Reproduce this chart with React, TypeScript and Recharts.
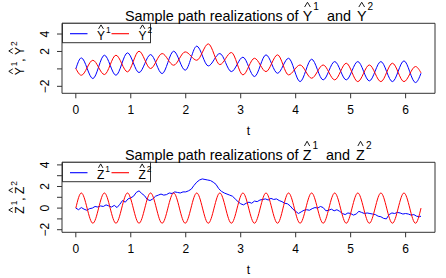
import React from "react";
import { LineChart, Line, XAxis, YAxis, ReferenceArea } from "recharts";

const W = 446;
const H = 139;
const FONT = '"Liberation Sans", Arial, Helvetica, sans-serif';
const INK = "#000000";
const FRAME = "#333333";
const BLUE = "#0000ff";
const RED = "#ff0000";

// axis ticks
const xTicks = [0, 1, 2, 3, 4, 5, 6];
const yTicksY = [-2, 0, 2, 4];
const yTicksZ = [-2, -1, 0, 1, 2, 3, 4];

// times of the peaks / troughs of the oscillating paths (plus both ends)
const tExt = [
  0, 0.1, 0.31, 0.52, 0.73, 0.94, 1.15, 1.36, 1.57, 1.78, 1.99, 2.2, 2.41, 2.62, 2.83, 3.04,
  3.25, 3.46, 3.67, 3.87, 4.08, 4.29, 4.5, 4.71, 4.92, 5.13, 5.34, 5.55, 5.76, 5.97, 6.18, 6.28,
];

// Y^1 (blue) and Y^2 (red) at those times
const y1Ext = [
  0.0, 1.26, -1.11, 1.57, -0.73, 1.84, -0.42, 1.64, -0.54, 2.03, -0.15, 2.61, 0.34, 1.76, -0.31, 1.34,
  -0.88, 1.61, -0.5, 1.22, -1.46, 1.11, -1.26, 0.84, -1.26, 0.84, -1.38, 0.84, -1.46, 0.92, -1.57, -0.5,
];
const y2Ext = [
  0.05, -0.73, 0.99, -0.65, 1.57, -0.34, 2.03, 0.04, 1.76, 0.42, 1.95, 0.99, 2.87, 0.49, 1.88, -0.69,
  1.22, -0.31, 1.61, -0.69, 0.45, -1.07, 0.45, -1.26, 0.65, -1.46, 0.45, -1.46, 0.65, -1.46, 0.27, -0.45,
];

// Z^2 (red) at the same times
const z2Ext = [
  0, 1.4, -1.4, 1.4, -1.4, 1.4, -1.4, 1.4, -1.4, 1.4, -1.4, 1.4, -1.4, 1.4, -1.4, 1.4,
  -1.4, 1.4, -1.4, 1.4, -1.4, 1.4, -1.4, 1.4, -1.4, 1.4, -1.4, 1.4, -1.4, 1.4, -1.4, 0,
];

// Z^1 (blue) read every 0.05
const tFine = [
  0, 0.05, 0.1, 0.15, 0.2, 0.25, 0.3, 0.35, 0.4, 0.45, 0.5, 0.55, 0.6, 0.65, 0.7, 0.75, 0.8, 0.85, 0.9, 0.95,
  1.0, 1.05, 1.1, 1.15, 1.2, 1.25, 1.3, 1.35, 1.4, 1.45, 1.5, 1.55, 1.6, 1.65, 1.7, 1.75, 1.8, 1.85, 1.9, 1.95,
  2.0, 2.05, 2.1, 2.15, 2.2, 2.25, 2.3, 2.35, 2.4, 2.45, 2.5, 2.55, 2.6, 2.65, 2.7, 2.75, 2.8, 2.85, 2.9, 2.95,
  3.0, 3.05, 3.1, 3.15, 3.2, 3.25, 3.3, 3.35, 3.4, 3.45, 3.5, 3.55, 3.6, 3.65, 3.7, 3.75, 3.8, 3.85, 3.9, 3.95,
  4.0, 4.05, 4.1, 4.15, 4.2, 4.25, 4.3, 4.35, 4.4, 4.45, 4.5, 4.55, 4.6, 4.65, 4.7, 4.75, 4.8, 4.85, 4.9, 4.95,
  5.0, 5.05, 5.1, 5.15, 5.2, 5.25, 5.3, 5.35, 5.4, 5.45, 5.5, 5.55, 5.6, 5.65, 5.7, 5.75, 5.8, 5.85, 5.9, 5.95,
  6.0, 6.05, 6.1, 6.15, 6.2, 6.25, 6.28,
];
const z1Fine = [
  0.0, -0.15, 0.05, -0.1, -0.2, -0.05, 0.0, 0.15, 0.1, 0.2, 0.15, 0.3, 0.2, 0.1, 0.25, 0.05, 0.35, 0.7, 0.55, 0.85,
  0.95, 1.1, 1.45, 1.6, 1.35, 1.15, 0.8, 0.7, 0.85, 1.1, 1.2, 1.3, 1.2, 1.25, 1.4, 1.35, 1.5, 1.45, 1.4, 1.5,
  1.5, 1.6, 1.75, 2.1, 2.4, 2.6, 2.7, 2.65, 2.6, 2.55, 2.4, 2.2, 1.8, 1.55, 1.4, 1.3, 1.2, 1.1, 0.85, 0.6,
  0.4, 0.3, 0.45, 0.55, 0.45, 0.65, 0.6, 0.75, 0.8, 0.85, 0.75, 0.9, 0.8, 0.85, 0.7, 0.6, 0.45, 0.4, 0.2, -0.1,
  -0.3, -0.5, -0.35, -0.2, -0.15, -0.2, -0.05, 0.05, 0.0, 0.15, 0.05, -0.25, -0.2, -0.1, -0.25, -0.15, -0.3, -0.5, -0.6, -0.45,
  -0.5, -0.65, -0.55, -0.3, -0.4, -0.5, -0.45, -0.5, -0.55, -0.6, -0.75, -0.8, -0.95, -1.0, -0.6, -0.45, -0.5, -0.4, -0.45, -0.55,
  -0.5, -0.55, -0.65, -0.6, -0.75, -0.8, -0.75,
];

const zip = (ts: number[], vs: number[]) => ts.map((t, i) => ({ t, v: vs[i] }));

const xDomain: [number, number] = [-0.2513, 6.5345];

// Liberation Sans advance widths (em)
const EM: Record<string, number> = { Y: 0.667, Z: 0.611, digit: 0.556, space: 0.278, comma: 0.278 };

// small caret drawn over a capital letter, like R's hat()
function Hat({ x, base, size, w }: any) {
  const capTop = base - 0.716 * size;
  const y0 = capTop - 0.22 * size;
  const y1 = y0 - 0.33 * size;
  return (
    <polyline
      points={`${x + w * 0.2},${y0} ${x + w * 0.5},${y1} ${x + w * 0.8},${y0}`}
      fill="none"
      stroke={INK}
      strokeWidth={0.9}
    />
  );
}

// "hat(L)^n" pieces laid out from x
function hatLayout(x: number, letter: string, size: number) {
  const w = EM[letter] * size;
  const supX = x + w + 1;
  const end = supX + EM.digit * size * 0.7;
  return { w, supX, end };
}

function Title({ letter }: any) {
  const s = 14.4;
  const base = 20.5;
  const x1 = 125 + 12.339 * s;
  const a = hatLayout(x1, letter, s);
  const xa = a.end + 8;
  const x2 = xa + 1.668 * s + 6;
  const b = hatLayout(x2, letter, s);
  const sb = base - 0.72 * s;
  return (
    <g>
      <text fill={INK} fontFamily={FONT} fontSize={s}>
        <tspan x={125} y={base}>Sample path realizations of</tspan>
        <tspan x={x1} y={base}>{letter}</tspan>
        <tspan x={a.supX} y={sb} fontSize={s * 0.7}>1</tspan>
        <tspan x={xa} y={base}>and</tspan>
        <tspan x={x2} y={base}>{letter}</tspan>
        <tspan x={b.supX} y={sb} fontSize={s * 0.7}>2</tspan>
      </text>
      <Hat x={x1} base={base} size={s} w={a.w} />
      <Hat x={x2} base={base} size={s} w={b.w} />
    </g>
  );
}

function YLab({ letter, cx, cy }: any) {
  const s = 12;
  const one = hatLayout(0, letter, s);
  const total = one.end * 2 + (EM.comma + EM.space) * s;
  const x0 = -total / 2;
  const a = hatLayout(x0, letter, s);
  const xc = a.end;
  const x2 = xc + (EM.comma + EM.space) * s;
  const b = hatLayout(x2, letter, s);
  const sb = -0.62 * s;
  return (
    <g transform={`translate(${cx} ${cy}) rotate(-90)`}>
      <text fill={INK} fontFamily={FONT} fontSize={s}>
        <tspan x={x0} y={0}>{letter}</tspan>
        <tspan x={a.supX} y={sb} fontSize={s * 0.7}>1</tspan>
        <tspan x={xc} y={0}>,</tspan>
        <tspan x={x2} y={0}>{letter}</tspan>
        <tspan x={b.supX} y={sb} fontSize={s * 0.7}>2</tspan>
      </text>
      <Hat x={x0} base={0} size={s} w={a.w} />
      <Hat x={x2} base={0} size={s} w={b.w} />
    </g>
  );
}

// legend box in the top-left corner of the plot frame
function LegendBox({ series, letter }: any) {
  const s = 12;
  const base = 16.8;
  return (
    <g transform="translate(62 23.3)">
      <rect x={0.5} y={0} width={88} height={19.4} fill="#ffffff" stroke={FRAME} strokeWidth={1} />
      {series.map((ser: any, i: number) => {
        const ox = i * 41.5;
        const lx = ox + 35;
        const h = hatLayout(lx, letter, s);
        return (
          <g key={ser.name}>
            <line x1={ox + 8} x2={ox + 25.5} y1={10.4} y2={10.4} stroke={ser.color} strokeWidth={1.1} />
            <text fill={INK} fontFamily={FONT} fontSize={s}>
              <tspan x={lx} y={base}>{letter}</tspan>
              <tspan x={h.supX} y={base - 0.62 * s} fontSize={s * 0.7}>{i + 1}</tspan>
            </text>
            <Hat x={lx} base={base} size={s} w={h.w} />
          </g>
        );
      })}
    </g>
  );
}

function RotTick(props: any) {
  const { x, y, payload, showLabel } = props;
  const v = payload.value;
  if (!showLabel(v)) return null;
  const label = v < 0 ? `\u2212${Math.abs(v)}` : String(v);
  return (
    <text x={x} y={y} transform={`rotate(-90 ${x} ${y})`} textAnchor="middle" fontSize={12} fill={INK} fontFamily={FONT}>
      {label}
    </text>
  );
}

function Panel({ top, letter, yDomain, yTicks, showLabel, series }: any) {
  return (
    <div style={{ position: "absolute", left: 0, top, width: W, height: H }}>
      <LineChart width={W} height={H} margin={{ top: 23.3, right: 11, bottom: 0, left: 0 }}>
        <XAxis
          type="number"
          dataKey="t"
          domain={xDomain}
          ticks={xTicks}
          interval={0}
          allowDataOverflow
          axisLine={false}
          tickSize={5}
          tickMargin={7.5}
          height={45.7}
          tickLine={{ stroke: FRAME }}
          tick={{ fontSize: 12, fill: INK, fontFamily: FONT }}
        />
        <YAxis
          type="number"
          domain={yDomain}
          ticks={yTicks}
          interval={0}
          allowDataOverflow
          axisLine={false}
          width={62}
          tickSize={5}
          tickMargin={8.3}
          tickLine={{ stroke: FRAME }}
          tick={(p: any) => <RotTick {...p} showLabel={showLabel} />}
        />
        <ReferenceArea
          x1={xDomain[0]}
          x2={xDomain[1]}
          y1={yDomain[0]}
          y2={yDomain[1]}
          fill="none"
          fillOpacity={0}
          stroke={FRAME}
          strokeWidth={1}
          ifOverflow="visible"
        />
        {series.map((s: any) => (
          <Line
            key={s.name}
            name={s.name}
            data={s.data}
            dataKey="v"
            type={s.curve}
            stroke={s.color}
            strokeWidth={1}
            dot={false}
            activeDot={false}
            isAnimationActive={false}
          />
        ))}
      </LineChart>
      <svg width={W} height={H} style={{ position: "absolute", left: 0, top: 0, pointerEvents: "none" }}>
        <Title letter={letter} />
        <LegendBox series={series} letter={letter} />
        <YLab letter={letter} cx={24} cy={58.3} />
        <text x={248.5} y={134.5} fontSize={12} textAnchor="middle" fill={INK} fontFamily={FONT}>t</text>
      </svg>
    </div>
  );
}

export default function App() {
  const ySeries = [
    { name: "Y1", data: zip(tExt, y1Ext), color: BLUE, curve: "monotone" },
    { name: "Y2", data: zip(tExt, y2Ext), color: RED, curve: "monotone" },
  ];
  const zSeries = [
    { name: "Z1", data: zip(tFine, z1Fine), color: BLUE, curve: "linear" },
    { name: "Z2", data: zip(tExt, z2Ext), color: RED, curve: "monotone" },
  ];
  return (
    <div style={{ position: "absolute", left: 0, top: 0, width: W, height: 278, background: "#fff" }}>
      <Panel
        top={0}
        letter="Y"
        yDomain={[-2.8, 5.23]}
        yTicks={yTicksY}
        showLabel={(v: number) => v !== 0}
        series={ySeries}
      />
      <Panel
        top={138.5}
        letter="Z"
        yDomain={[-2.24, 4.24]}
        yTicks={yTicksZ}
        showLabel={(v: number) => v % 2 === 0}
        series={zSeries}
      />
    </div>
  );
}
